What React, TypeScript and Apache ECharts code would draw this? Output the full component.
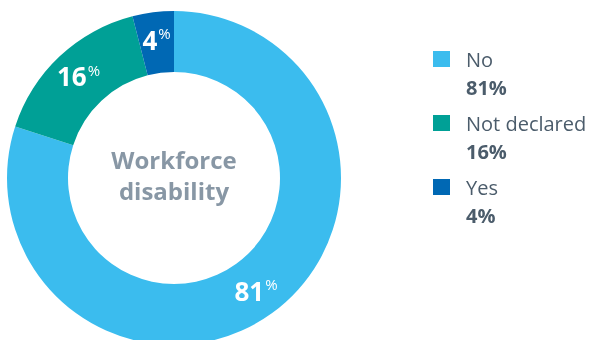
import React, { useEffect, useRef } from "react";
import * as echarts from "echarts";

const categories = ["No", "Not declared", "Yes"];
const shares = [80, 16, 4];
const shareLabels = ["81", "16", "4"];
const colors = ["#3bbcee", "#00a096", "#0068b4"];
const centerTitle = ["Workforce", "disability"];

export default function App() {
  const ref = useRef<HTMLDivElement>(null);
  useEffect(() => {
    document.body.style.margin = "0";
    const chart = echarts.init(ref.current!, null, { renderer: "svg" });
    const data = categories.map((name, i) => ({
      name,
      value: shares[i],
      itemStyle: { color: colors[i] },
      label: { formatter: `{n|${shareLabels[i]}}{p|%}` },
    }));
    chart.setOption({
      animation: false,
      graphic: [
        {
          type: "text",
          x: 174,
          y: 175,
          style: {
            text: centerTitle.join("\n"),
            fill: "#8897a5",
            font: 'bold 24px "Open Sans"',
            lineHeight: 31,
            align: "center",
            verticalAlign: "middle",
            textAlign: "center",
            textVerticalAlign: "middle",
          },
        },
      ],
      legend: {
        orient: "vertical",
        left: 433,
        top: 21,
        padding: 0,
        itemGap: -12,
        itemWidth: 17,
        itemHeight: 16,
        icon: "rect",
        selectedMode: false,
        itemStyle: { borderWidth: 0 },
        data: categories,
        formatter: (name: string) => {
          const i = categories.indexOf(name);
          return `{s| }\n{a|${name}}\n{b|${shareLabels[i]}%}`;
        },
        textStyle: {
          rich: {
            s: { fontSize: 20, lineHeight: 28, padding: [0, 0, 0, 11] },
            a: {
              fontSize: 20,
              lineHeight: 28,
              color: "#4b5c6b",
              fontFamily: "Open Sans",
              padding: [0, 0, 0, 11],
            },
            b: {
              fontSize: 20,
              lineHeight: 28,
              fontWeight: "bold",
              color: "#4b5c6b",
              fontFamily: "Open Sans",
              padding: [0, 0, 0, 11],
            },
          },
        },
      },
      series: [
        {
          type: "pie",
          center: [174, 178],
          radius: [106, 167],
          startAngle: 90,
          clockwise: true,
          silent: true,
          itemStyle: { borderWidth: 0 },
          label: {
            show: true,
            position: "inside",
            rich: {
              n: {
                fontSize: 26,
                fontWeight: "bold",
                color: "#ffffff",
                fontFamily: "Open Sans",
                lineHeight: 28,
              },
              p: {
                fontSize: 15,
                color: "#ffffff",
                fontFamily: "Open Sans",
                lineHeight: 16,
                verticalAlign: "top",
                padding: [0, 0, 0, 1],
              },
            },
          },
          labelLine: { show: false },
          data,
        },
      ],
    });
    return () => chart.dispose();
  }, []);
  return (
    <div
      ref={ref}
      style={{ position: "fixed", left: 0, top: 0, width: 595, height: 340 }}
    />
  );
}
